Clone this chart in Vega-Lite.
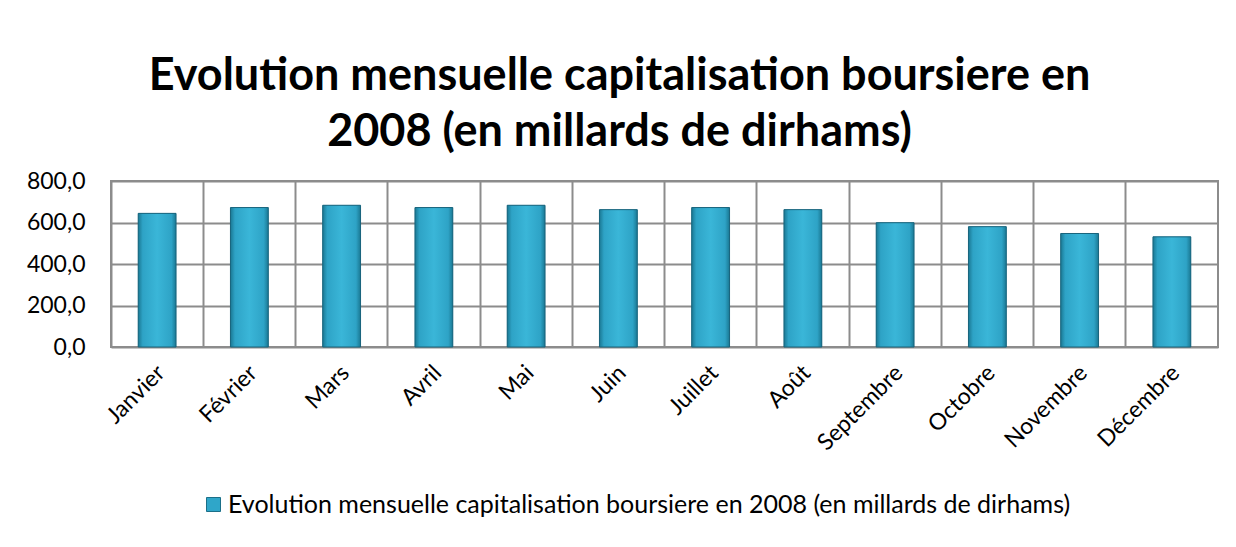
{
  "$schema": "https://vega.github.io/schema/vega-lite/v6.json",
  "autosize": {"type": "none"},
  "width": 1107,
  "height": 166,
  "padding": {"left": 111, "top": 181, "right": 18, "bottom": 200},
  "background": "white",
  "config": {
    "font": "Lato",
    "view": {"stroke": "#8c8c8c", "strokeWidth": 2}
  },
  "title": {
    "text": ["Evolution mensuelle capitalisation boursiere en", "2008 (en millards de dirhams)"],
    "font": "Lato",
    "fontSize": 45,
    "fontWeight": "bold",
    "color": "#000000",
    "anchor": "middle",
    "dx": -45,
    "offset": 15,
    "lineHeight": 56
  },
  "data": {
    "values": [
      {"mois": "Janvier", "valeur": 644, "serie": "Evolution mensuelle capitalisation boursiere en 2008 (en millards de dirhams)"},
      {"mois": "Février", "valeur": 672, "serie": "Evolution mensuelle capitalisation boursiere en 2008 (en millards de dirhams)"},
      {"mois": "Mars", "valeur": 683, "serie": "Evolution mensuelle capitalisation boursiere en 2008 (en millards de dirhams)"},
      {"mois": "Avril", "valeur": 672, "serie": "Evolution mensuelle capitalisation boursiere en 2008 (en millards de dirhams)"},
      {"mois": "Mai", "valeur": 683, "serie": "Evolution mensuelle capitalisation boursiere en 2008 (en millards de dirhams)"},
      {"mois": "Juin", "valeur": 662, "serie": "Evolution mensuelle capitalisation boursiere en 2008 (en millards de dirhams)"},
      {"mois": "Juillet", "valeur": 672, "serie": "Evolution mensuelle capitalisation boursiere en 2008 (en millards de dirhams)"},
      {"mois": "Août", "valeur": 662, "serie": "Evolution mensuelle capitalisation boursiere en 2008 (en millards de dirhams)"},
      {"mois": "Septembre", "valeur": 599, "serie": "Evolution mensuelle capitalisation boursiere en 2008 (en millards de dirhams)"},
      {"mois": "Octobre", "valeur": 580, "serie": "Evolution mensuelle capitalisation boursiere en 2008 (en millards de dirhams)"},
      {"mois": "Novembre", "valeur": 547, "serie": "Evolution mensuelle capitalisation boursiere en 2008 (en millards de dirhams)"},
      {"mois": "Décembre", "valeur": 531, "serie": "Evolution mensuelle capitalisation boursiere en 2008 (en millards de dirhams)"}
    ]
  },
  "encoding": {
    "x": {
      "field": "mois",
      "type": "nominal",
      "sort": null,
      "title": null,
      "scale": {"paddingInner": 0, "paddingOuter": 0}
    },
    "y": {
      "field": "valeur",
      "type": "quantitative",
      "title": null,
      "scale": {"domain": [0, 800]},
      "axis": {
        "values": [0, 200, 400, 600, 800],
        "labelExpr": "replace(format(datum.value, '.1f'), '.', ',')",
        "labelFontSize": 23,
        "labelFont": "Lato",
        "labelColor": "#000000",
        "labelPadding": 26,
        "ticks": false,
        "tickSize": 0,
        "domain": false,
        "grid": true,
        "gridColor": "#8c8c8c",
        "gridWidth": 2
      }
    }
  },
  "layer": [
    {
      "mark": {"type": "bar", "width": {"band": 0.41}},
      "encoding": {
        "x": {
          "field": "mois",
          "type": "nominal",
          "sort": null,
          "title": null,
          "axis": {
            "orient": "bottom",
            "labelAngle": -45,
            "labelAlign": "right",
            "labelBaseline": "middle",
            "labelFontSize": 23,
            "labelFont": "Lato",
            "labelColor": "#000000",
            "labelPadding": 22,
            "labelOffset": 4,
            "ticks": false,
            "tickSize": 0,
            "domain": false,
            "grid": false
          }
        },
        "color": {
          "field": "serie",
          "type": "nominal",
          "scale": {"range": ["#2fa6c9"]},
          "legend": {
            "title": null,
            "orient": "none",
            "legendX": 90,
            "legendY": 311,
            "padding": 0,
            "symbolType": "square",
            "symbolSize": 196,
            "symbolStrokeColor": "#1b6f88",
            "symbolStrokeWidth": 1,
            "labelOffset": 2,
            "labelFontSize": 25,
            "labelFont": "Lato",
            "labelColor": "#000000",
            "labelLimit": 1200
          }
        }
      }
    },
    {
      "mark": {
        "type": "bar",
        "width": {"band": 0.41},
        "stroke": "#19647c",
        "strokeWidth": 1,
        "color": {
          "gradient": "linear",
          "x1": 0, "x2": 1, "y1": 0, "y2": 0,
          "stops": [
            {"offset": 0, "color": "#1a7893"},
            {"offset": 0.12, "color": "#2ea3c6"},
            {"offset": 0.5, "color": "#3ab6d8"},
            {"offset": 0.88, "color": "#2ea3c6"},
            {"offset": 1, "color": "#1a7893"}
          ]
        }
      },
      "encoding": {
        "x": {
          "field": "mois",
          "type": "nominal",
          "sort": null,
          "title": null,
          "axis": {
            "orient": "top",
            "labels": false,
            "ticks": false,
            "domain": false,
            "grid": true,
            "bandPosition": 0,
            "gridColor": "#8c8c8c",
            "gridWidth": 2
          }
        }
      }
    }
  ],
  "resolve": {"axis": {"x": "independent"}}
}
